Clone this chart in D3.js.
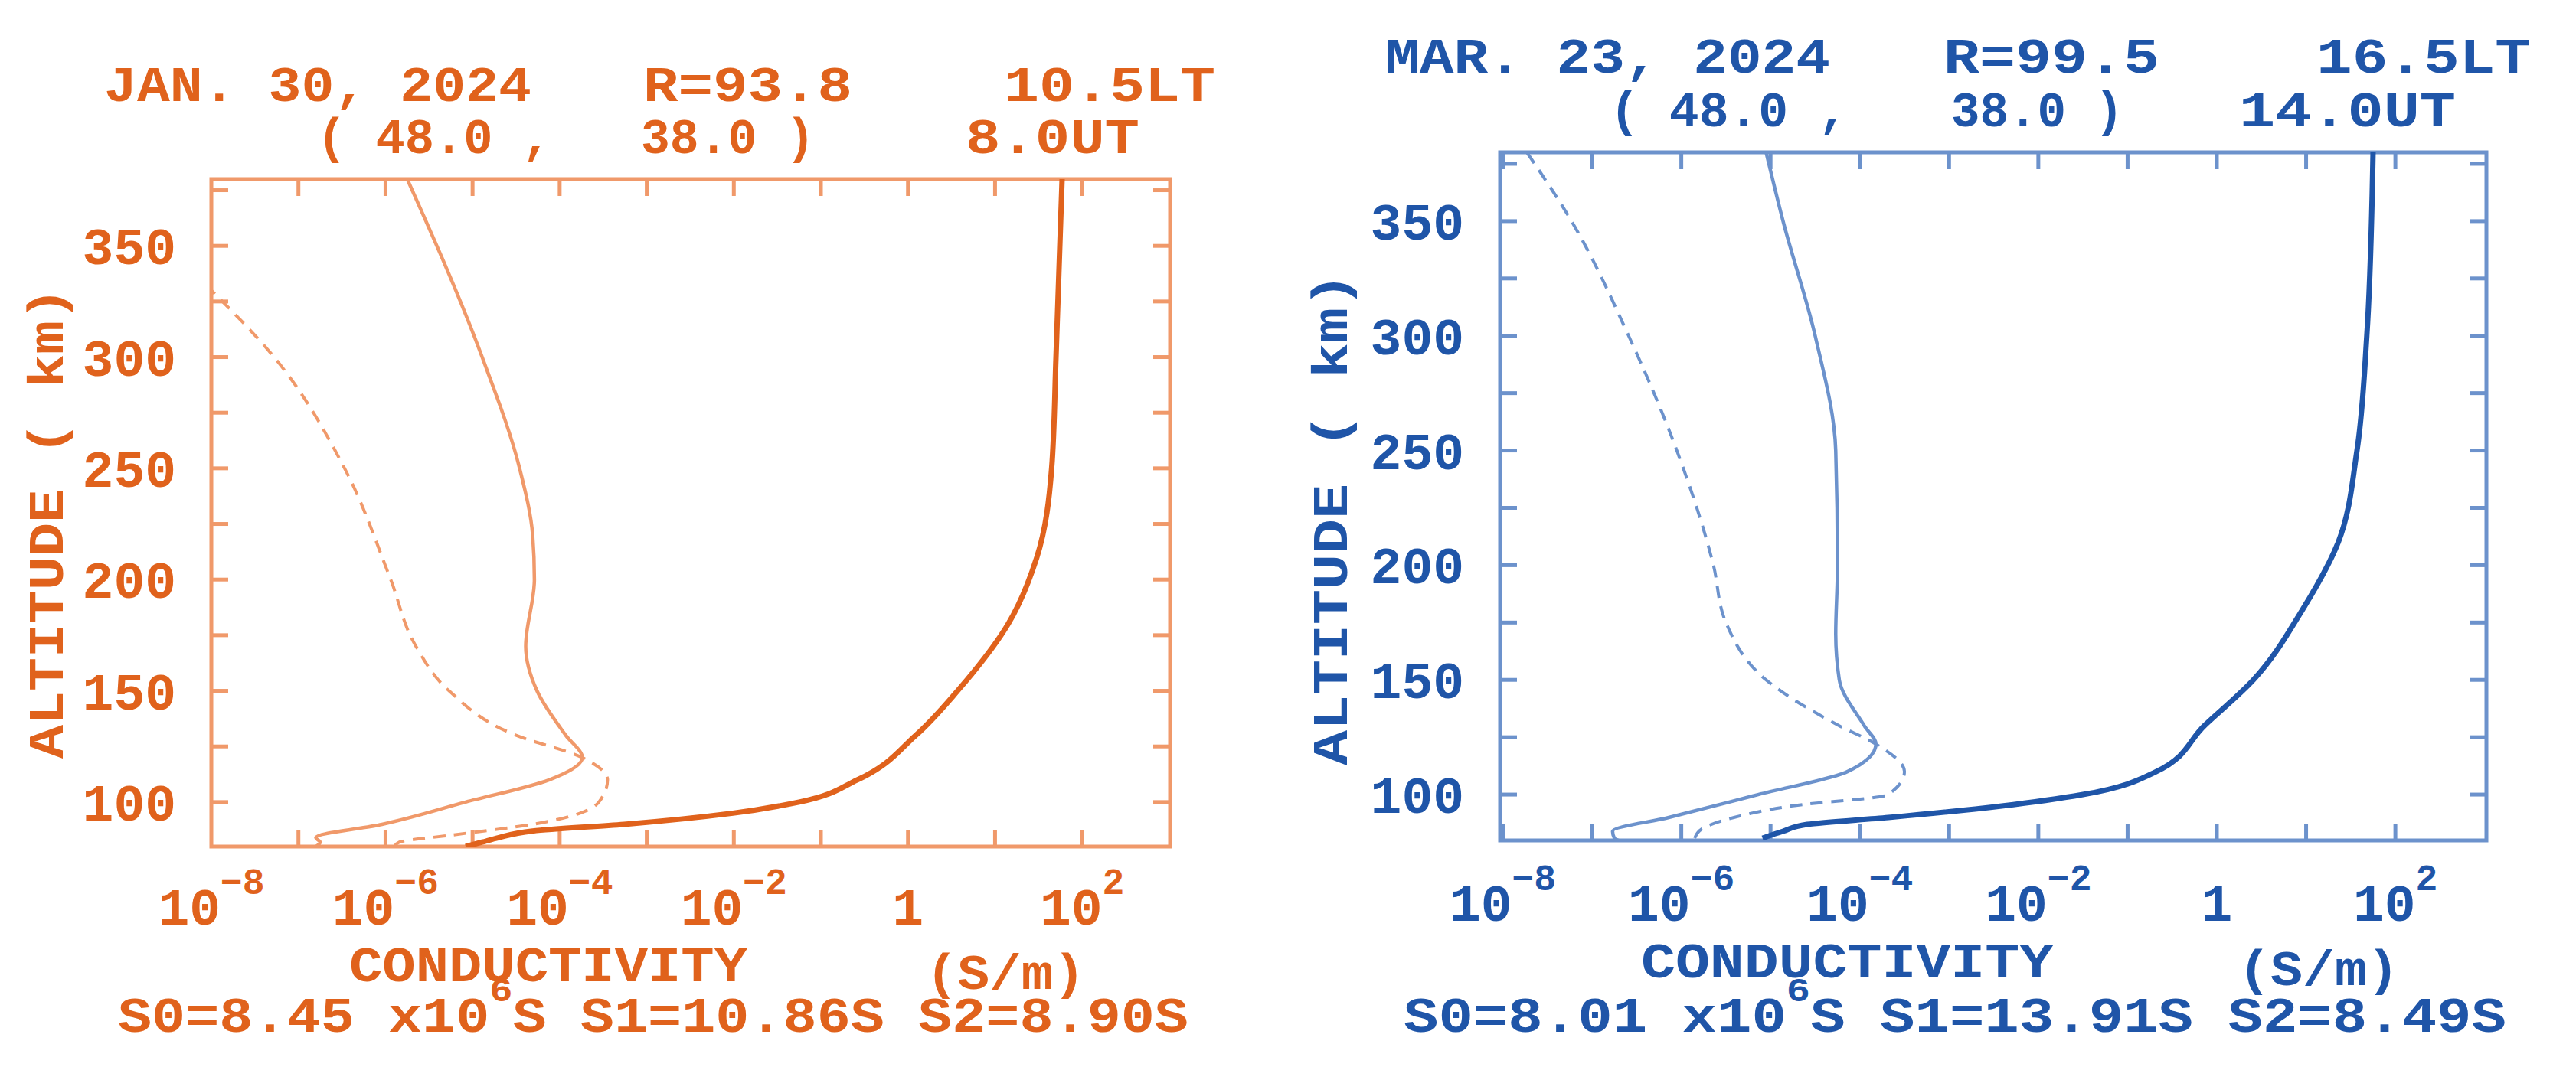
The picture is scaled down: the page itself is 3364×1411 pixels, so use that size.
<!DOCTYPE html>
<html><head><meta charset="utf-8">
<script src="https://cdn.jsdelivr.net/npm/d3@7"></script>
<style>body{margin:0;background:#fff}text{font-family:"Liberation Mono","DejaVu Sans Mono",monospace;font-weight:bold}</style>
</head><body><svg id="c" width="3364" height="1411"></svg>
<script>
// ---- data (log10 conductivity in S/m vs altitude in km) ----
const xTickExps = [-8,-6,-4,-2,0,2];
const yTicks = [100,150,200,250,300,350];
// Panel 1: JAN. 30, 2024
const janAlt1 = [80,82,84,90,100,110,120,130,150,170,200,220,250,300,380];
const janThin = [-6.8,-6.75,-6.8,-6.04,-5.08,-4.12,-3.74,-3.93,-4.26,-4.39,-4.29,-4.31,-4.46,-4.89,-5.75];
const janAltD = [80,82,85,90,100,110,120,130,150,170,200,250,300,330];
const janDash = [-5.9,-5.84,-5.27,-4.31,-3.55,-3.45,-3.74,-4.5,-5.27,-5.65,-5.94,-6.47,-7.28,-8.0];
const janAltT = [80,82,84,87,90,95,100,110,130,150,180,210,250,300,380];
const janThick = [-5.08,-4.89,-4.7,-4.31,-3.26,-2.01,-1.25,-0.58,0.09,0.57,1.15,1.48,1.65,1.70,1.77];
// Panel 2: MAR. 23, 2024
const marAlt1 = [80,81,84,90,100,110,122,130,150,170,200,250,300,350,380];
const marThin = [-6.7,-6.75,-6.77,-6.14,-5.14,-4.14,-3.82,-3.95,-4.23,-4.27,-4.25,-4.27,-4.5,-4.86,-5.05];
const marAltD = [81,85,90,95,100,110,122,130,150,175,200,250,300,350,380];
const marDash = [-5.85,-5.77,-5.41,-4.77,-3.68,-3.5,-3.82,-4.23,-5.05,-5.5,-5.64,-6.05,-6.59,-7.23,-7.73];
const marAltT = [81,84,87,90,95,100,110,130,150,180,210,250,300,380];
const marThick = [-5.09,-4.86,-4.59,-3.68,-2.41,-1.5,-0.68,-0.14,0.41,0.95,1.36,1.57,1.68,1.75];

const panels = [
 {x0:276,x1:1528,y0:234,y1:1106,xr:[-8,3.01],col:"#e0621c",thin:"#f0996a",
  t1:[["JAN. 30, 2024",136,694],["R=93.8",840,1113],["10.5LT",1311,1587]],
  t2:[["( 48.0 ,",414,720],["38.0 )",837,1064],["8.0UT",1261,1488]],
  ty1:132,ty2:200,ylx:230,alx:60,aly:[375,991],xly:1208,cy:1282,sy:1348,
  cond:[456,976],sm:[1209,1417],sx:[154,1552],
  s:["S0=8.45 x10","6","S S1=10.86S S2=8.90S"],
  a1:janAlt1,v1:janThin,ad:janAltD,vd:janDash,at:janAltT,vt:janThick},
 {x0:1959,x1:3247,y0:199,y1:1098,xr:[-8.03,3.02],col:"#1f55a8",thin:"#6c92cc",
  t1:[["MAR. 23, 2024",1809,2390],["R=99.5",2538,2820],["16.5LT",3025,3305]],
  t2:[["( 48.0 ,",2102,2413],["38.0 )",2548,2773],["14.0UT",2924,3207]],
  ty1:95,ty2:165,ylx:1912,alx:1737,aly:[356,1000],xly:1203,cy:1277,sy:1348,
  cond:[2143,2682],sm:[2923,3133],sx:[1833,3273],
  s:["S0=8.01 x10","6","S S1=13.91S S2=8.49S"],
  a1:marAlt1,v1:marThin,ad:marAltD,vd:marDash,at:marAltT,vt:marThick}
];
const svg=d3.select("#c");
function fit(g,str,x0,x1,y,size,c){
  return g.append("text").attr("x",x0).attr("y",y).attr("font-size",size).attr("fill",c)
   .attr("textLength",x1-x0).attr("lengthAdjust","spacingAndGlyphs").text(str);
}
panels.forEach((p,i)=>{
 const g=svg.append("g");
 const x=d3.scaleLinear().domain(p.xr).range([p.x0,p.x1]);
 const y=d3.scaleLinear().domain([80,380]).range([p.y1,p.y0]);
 const c=p.col;
 g.append("rect").attr("x",p.x0).attr("y",p.y0).attr("width",p.x1-p.x0).attr("height",p.y1-p.y0)
  .attr("fill","none").attr("stroke",p.thin).attr("stroke-width",5);
 const dec=d3.range(-8,4).filter(d=>x(d)>p.x0+3&&x(d)<p.x1-3);
 const yt=d3.range(100,380,25);
 const tk=g.append("g").attr("stroke",p.thin).attr("stroke-width",5);
 dec.forEach(d=>{tk.append("line").attr("x1",x(d)).attr("x2",x(d)).attr("y1",p.y1).attr("y2",p.y1-22);
   tk.append("line").attr("x1",x(d)).attr("x2",x(d)).attr("y1",p.y0).attr("y2",p.y0+22);});
 yt.forEach(v=>{tk.append("line").attr("x1",p.x0).attr("x2",p.x0+22).attr("y1",y(v)).attr("y2",y(v));
   tk.append("line").attr("x1",p.x1).attr("x2",p.x1-22).attr("y1",y(v)).attr("y2",y(v));});
 const line=d3.line().x(d=>x(d[1])).y(d=>y(d[0])).curve(d3.curveMonotoneY);
 const clip="cl"+i;
 svg.append("clipPath").attr("id",clip).append("rect").attr("x",p.x0).attr("y",p.y0).attr("width",p.x1-p.x0).attr("height",p.y1-p.y0);
 const lg=g.append("g").attr("clip-path",`url(#${clip})`).attr("fill","none");
 lg.append("path").attr("d",line(d3.zip(p.ad,p.vd))).attr("stroke",p.thin).attr("stroke-width",4).attr("stroke-dasharray","16,11");
 lg.append("path").attr("d",line(d3.zip(p.a1,p.v1))).attr("stroke",p.thin).attr("stroke-width",4.5);
 lg.append("path").attr("d",line(d3.zip(p.at,p.vt))).attr("stroke",c).attr("stroke-width",7);
 yTicks.forEach(v=>g.append("text").attr("x",p.ylx).attr("y",y(v)+24).attr("text-anchor","end").attr("font-size",68).attr("fill",c).text(v));
 xTickExps.forEach(e=>{
  const t=g.append("text").attr("x",x(e)).attr("y",p.xly).attr("text-anchor","middle").attr("font-size",68).attr("fill",c);
  if(e===0) t.text("1");
  else {t.append("tspan").text("10");t.append("tspan").attr("dy",-40).attr("font-size",48).text(String(e).replace("-","\u2212"));}
 });
 const al=p.aly[1]-p.aly[0];
 g.append("text").attr("transform",`translate(${p.alx+22},${p.aly[1]}) rotate(-90)`).attr("font-size",64).attr("fill",c)
  .attr("textLength",al).attr("lengthAdjust","spacingAndGlyphs").text("ALTITUDE ( km)");
 p.t1.forEach(t=>fit(g,t[0],t[1],t[2],p.ty1,64,c));
 p.t2.forEach(t=>fit(g,t[0],t[1],t[2],p.ty2,64,c));
 fit(g,"CONDUCTIVITY",p.cond[0],p.cond[1],p.cy,64,c);
 fit(g,"(S/m)",p.sm[0],p.sm[1],p.cy+10,64,c);
 const st=g.append("text").attr("x",p.sx[0]).attr("y",p.sy).attr("font-size",64).attr("fill",c)
   .attr("textLength",p.sx[1]-p.sx[0]).attr("lengthAdjust","spacingAndGlyphs");
 st.append("tspan").text(p.s[0]);st.append("tspan").attr("dy",-40).attr("font-size",44).text(p.s[1]);
 st.append("tspan").attr("dy",40).text(p.s[2]);
});
</script></body></html>
